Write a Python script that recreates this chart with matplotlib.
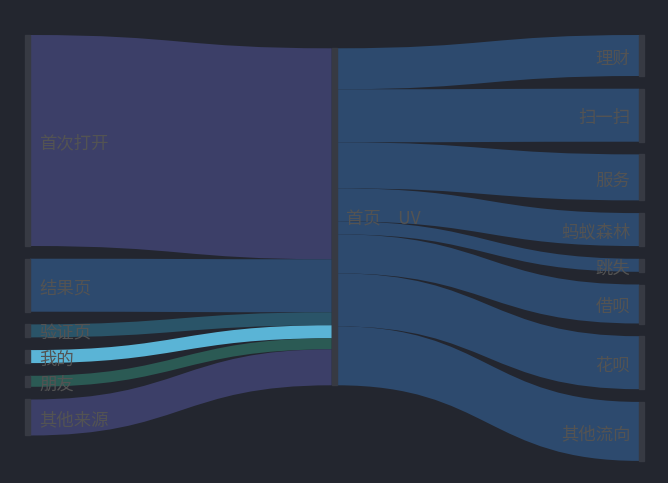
import matplotlib
matplotlib.use("Agg")
import matplotlib.pyplot as plt
from matplotlib.path import Path
from matplotlib.patches import PathPatch, Rectangle

plt.rcParams['font.family'] = ['Noto Sans CJK SC', 'DejaVu Sans']

# data
sources = ['首次打开', '结果页', '验证页', '我的', '朋友', '其他来源']
source_values = [211, 53, 13, 13, 11, 36]
hub = '首页\u3000UV'
targets = ['理财', '扫一扫', '服务', '蚂蚁森林', '跳失', '借呗', '花呗', '其他流向']
target_values = [41, 53, 46, 33, 13, 39, 53, 59]

# style
BG = '#23262f'
NODE_COLOR = '#373a43'
LABEL_COLOR = '#535353'
source_colors = ['#3c3f68', '#2d4a6e', '#2a5468', '#5ab4d6', '#2b5a54', '#3c3f68']
hub_color = '#2d4a6e'

NODE_W = 5
GAP = 12.7
col_x = [25, 331.7, 639.3]
col_top = [35, 48.3, 35]
ky = 1.0
LABEL_DY = 3  # nudge labels down to sit where echarts puts them


def stack(values, top, gap=GAP):
    spans = []
    y = top
    for v in values:
        spans.append((y, y + v * ky))
        y += v * ky + gap
    return spans


def draw_link(ax, x0, y0a, y0b, x1, y1a, y1b, color):
    xm = (x0 + x1) / 2
    verts = [(x0, y0a), (xm, y0a), (xm, y1a), (x1, y1a),
             (x1, y1b), (xm, y1b), (xm, y0b), (x0, y0b), (x0, y0a)]
    codes = [Path.MOVETO, Path.CURVE4, Path.CURVE4, Path.CURVE4,
             Path.LINETO, Path.CURVE4, Path.CURVE4, Path.CURVE4, Path.CLOSEPOLY]
    ax.add_patch(PathPatch(Path(verts, codes), facecolor=color, edgecolor='none', zorder=1))


fig = plt.figure(figsize=(6.68, 4.83), dpi=100, facecolor=BG)
ax = fig.add_axes([0, 0, 1, 1])
ax.set_facecolor(BG)
ax.set_xlim(0, 668)
ax.set_ylim(483, 0)
ax.axis('off')

src_spans = stack(source_values, col_top[0])
tgt_spans = stack(target_values, col_top[2])
hub_in = stack(source_values, col_top[1], gap=0)
hub_out = stack(target_values, col_top[1], gap=0)
hub_span = (hub_in[0][0], hub_in[-1][1])

# links into the hub
for (a, b), (c, d), col in zip(src_spans, hub_in, source_colors):
    draw_link(ax, col_x[0] + NODE_W, a, b, col_x[1], c, d, col)

# links out of the hub
for (a, b), (c, d) in zip(hub_out, tgt_spans):
    draw_link(ax, col_x[1] + NODE_W, a, b, col_x[2], c, d, hub_color)

# nodes
for a, b in src_spans:
    ax.add_patch(Rectangle((col_x[0], a), NODE_W, b - a, color=NODE_COLOR, zorder=2))
for a, b in tgt_spans:
    ax.add_patch(Rectangle((col_x[2], a), NODE_W, b - a, color=NODE_COLOR, zorder=2))
ax.add_patch(Rectangle((col_x[1], hub_span[0]), NODE_W, hub_span[1] - hub_span[0],
                       color=NODE_COLOR, zorder=2))

# labels
fs = 12.5
for name, (a, b) in zip(sources, src_spans):
    ax.text(col_x[0] + NODE_W + 9, (a + b) / 2 + LABEL_DY, name, ha='left', va='center',
            fontsize=fs, color=LABEL_COLOR, zorder=3)
ax.text(col_x[1] + NODE_W + 9, sum(hub_span) / 2 + LABEL_DY, hub, ha='left', va='center',
        fontsize=fs, color=LABEL_COLOR, zorder=3)
for name, (a, b) in zip(targets, tgt_spans):
    ax.text(col_x[2] - 9, (a + b) / 2 + LABEL_DY, name, ha='right', va='center',
            fontsize=fs, color=LABEL_COLOR, zorder=3)

fig.savefig('out.png', dpi=100, facecolor=BG)
